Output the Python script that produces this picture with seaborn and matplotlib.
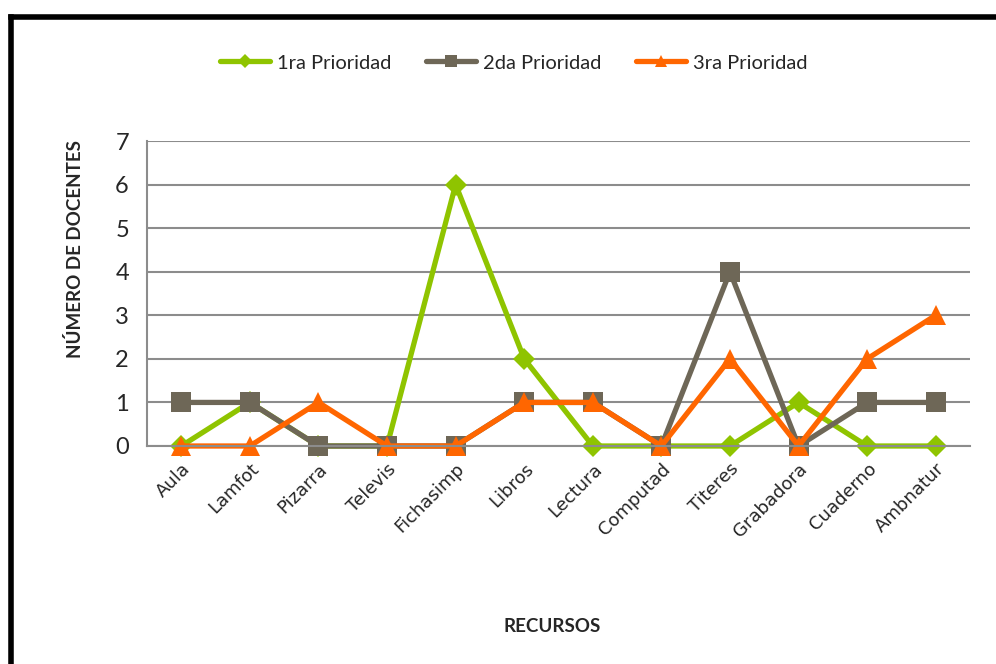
import matplotlib
matplotlib.use("Agg")
import matplotlib.pyplot as plt
import seaborn as sns
import pandas as pd
from matplotlib.lines import Line2D
from matplotlib.ticker import FixedLocator

recursos = ["Aula", "Lamfot", "Pizarra", "Televis", "Fichasimp", "Libros",
            "Lectura", "Computad", "Titeres", "Grabadora", "Cuaderno", "Ambnatur"]
prioridad_1 = [0, 1, 0, 0, 6, 2, 0, 0, 0, 1, 0, 0]
prioridad_2 = [1, 1, 0, 0, 0, 1, 1, 0, 4, 0, 1, 1]
prioridad_3 = [0, 0, 1, 0, 0, 1, 1, 0, 2, 0, 2, 3]
series_names = ["1ra Prioridad", "2da Prioridad", "3ra Prioridad"]
y_ticks = [0, 1, 2, 3, 4, 5, 6, 7]

colors = {"1ra Prioridad": "#8FC400", "2da Prioridad": "#6E6757", "3ra Prioridad": "#FF6600"}
markers = {"1ra Prioridad": "D", "2da Prioridad": "s", "3ra Prioridad": "^"}
msizes = {"1ra Prioridad": 11, "2da Prioridad": 14, "3ra Prioridad": 14}

rows = []
for name, vals in zip(series_names, [prioridad_1, prioridad_2, prioridad_3]):
    for i, (r, v) in enumerate(zip(recursos, vals)):
        rows.append({"pos": i, "recurso": r, "valor": v, "serie": name})
df = pd.DataFrame(rows)

sns.set_style("white")
plt.rcParams["font.family"] = ["Lato", "DejaVu Sans"]

fig = plt.figure(figsize=(9.96, 6.64), dpi=100)
ax = fig.add_axes([147/996, 1-446/664, (970-147)/996, (446-141)/664])

for name in series_names:
    sub = df[df["serie"] == name]
    sns.lineplot(data=sub, x="pos", y="valor", ax=ax, color=colors[name],
                 marker=markers[name], markersize=msizes[name], linewidth=3.8,
                 markeredgewidth=0, legend=False, clip_on=False)

ax.set_xlim(-0.5, len(recursos) - 0.5)
ax.set_ylim(0, 7)
ax.set_yticks(y_ticks)
ax.set_yticklabels([str(t) for t in y_ticks], fontsize=17)
ax.set_xticks(range(len(recursos)))
ax.set_xticklabels(recursos, rotation=45, ha="right", rotation_mode="anchor",
                   fontsize=13, family="DejaVu Sans")
ax.xaxis.set_minor_locator(FixedLocator([i + 0.5 for i in range(-1, len(recursos))]))
ax.tick_params(axis="x", which="major", length=0, pad=10)
ax.tick_params(axis="x", which="minor", length=5, width=1.2, color="#888888", direction="out")
ax.tick_params(axis="y", which="major", length=5, width=1.2, color="#888888", direction="out", pad=8)

ax.grid(axis="y", color="#8C8C8C", linewidth=1.5)
ax.set_axisbelow(True)
for s in ["top", "right"]:
    ax.spines[s].set_visible(False)
for s in ["left", "bottom"]:
    ax.spines[s].set_color("#8C8C8C")
    ax.spines[s].set_linewidth(1.5)

ax.set_xlabel("")
ax.set_ylabel("")
fig.text(75/996, 1-249/664, "NÚMERO DE DOCENTES", rotation=90, ha="center", va="center",
         fontsize=13.5, fontweight="bold")
fig.text(552/996, 1-627/664, "RECURSOS", ha="center", va="center",
         fontsize=13.5, fontweight="bold")

handles = [Line2D([0], [0], color=colors[n], lw=3.8, marker=markers[n],
                  markersize=msizes[n] * 0.65, markeredgewidth=0) for n in series_names]
fig.legend(handles, series_names, loc="center", bbox_to_anchor=(514/996, 1-63/664),
           ncol=3, frameon=False, fontsize=14.5, handlelength=2.5, columnspacing=1.7,
           handletextpad=0.35)

fig.add_artist(Line2D([10.5/996, 10.5/996], [0, 1-17/664], color="black", lw=4,
                      transform=fig.transFigure, solid_capstyle="projecting"))
fig.add_artist(Line2D([10.5/996, 1], [1-17/664, 1-17/664], color="black", lw=4,
                      transform=fig.transFigure, solid_capstyle="projecting"))

fig.savefig("out.png", dpi=100)
